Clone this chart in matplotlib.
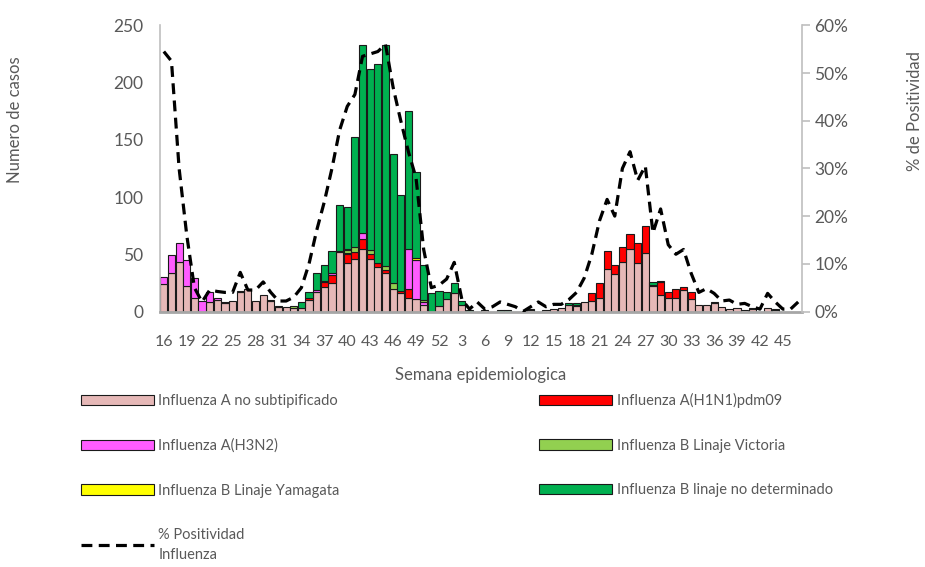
import matplotlib
matplotlib.use("Agg")
import matplotlib.pyplot as plt
import numpy as np
from matplotlib.patches import Patch
from matplotlib.lines import Line2D

plt.rcParams['font.family'] = ['Lato', 'DejaVu Sans']

# ---------------- data ----------------
weeks = list(range(16, 53)) + list(range(1, 48))

a_nosub = [24, 34, 43, 22, 12, 0, 8, 10, 7, 9, 17, 20, 9, 14, 9, 4, 4, 3, 3, 10,
           17, 21, 25, 52, 42, 46, 55, 46, 39, 34, 20, 16, 12, 11, 6, 0, 5, 11, 16, 6,
           0, 0, 1, 0, 0, 0, 0, 0, 1, 0, 1, 2, 3, 6, 5, 8, 9, 12, 37, 33,
           43, 55, 42, 51, 22, 14, 12, 12, 19, 11, 6, 6, 7, 4, 2, 3, 1, 2, 0, 3,
           1, 0, 0, 0]
h1n1 = [0, 0, 0, 0, 0, 0, 0, 0, 1, 0, 0, 0, 0, 0, 1, 1, 0, 0, 0, 2,
        0, 5, 7, 1, 8, 6, 8, 4, 3, 2, 0, 2, 8, 0, 0, 0, 0, 0, 0, 0,
        0, 0, 0, 0, 0, 0, 0, 0, 0, 0, 0, 0, 0, 0, 1, 0, 7, 13, 16, 8,
        13, 13, 18, 24, 1, 12, 5, 8, 2, 6, 0, 0, 1, 0, 0, 0, 0, 1, 0, 0,
        0, 0, 0, 0]
h3n2 = [6, 15, 17, 23, 17, 9, 9, 2, 0, 0, 1, 0, 0, 0, 0, 0, 0, 0, 0, 0,
        2, 0, 2, 0, 1, 0, 6, 0, 0, 0, 0, 0, 35, 34, 2, 0, 0, 0, 0, 0,
        0, 0, 0, 0, 0, 0, 0, 0, 0, 0, 0, 0, 0, 0, 0, 0, 0, 0, 0, 0,
        0, 0, 0, 0, 0, 0, 0, 0, 0, 0, 0, 0, 0, 0, 0, 0, 0, 0, 0, 0,
        0, 0, 0, 0]
b_victoria = [0, 0, 0, 0, 0, 0, 0, 0, 0, 0, 0, 0, 0, 0, 0, 0, 0, 2, 0, 0,
              0, 1, 0, 0, 3, 4, 0, 4, 0, 4, 5, 0, 0, 0, 2, 0, 0, 0, 0, 0,
              0, 0, 0, 0, 0, 0, 0, 0, 0, 0, 0, 0, 0, 0, 0, 0, 0, 0, 0, 0,
              0, 0, 0, 0, 0, 0, 0, 0, 0, 0, 0, 0, 0, 0, 0, 0, 0, 0, 0, 0,
              0, 0, 0, 0]
b_yamagata = [0, 0, 0, 0, 0, 0, 0, 0, 0, 0, 0, 0, 0, 0, 0, 0, 0, 0, 0, 0,
              0, 0, 0, 0, 1, 0, 0, 0, 0, 0, 0, 0, 0, 2, 0, 0, 0, 0, 0, 0,
              0, 0, 0, 0, 0, 0, 0, 0, 0, 0, 0, 0, 0, 0, 0, 0, 0, 0, 0, 0,
              0, 0, 0, 0, 0, 0, 0, 0, 0, 0, 0, 0, 0, 0, 0, 0, 0, 0, 0, 0,
              0, 0, 0, 0]
b_nodet = [0, 0, 0, 0, 0, 0, 0, 0, 0, 0, 0, 0, 0, 0, 0, 0, 0, 0, 5, 5,
           15, 14, 19, 40, 36, 96, 164, 158, 174, 193, 113, 84, 120, 75, 31, 16, 13, 6, 9, 3,
           1, 0, 0, 0, 1, 1, 0, 0, 1, 0, 0, 0, 0, 1, 1, 0, 0, 0, 0, 0,
           0, 0, 0, 0, 3, 1, 0, 0, 0, 0, 0, 0, 0, 0, 0, 0, 0, 0, 0, 0,
           1, 0, 0, 0]
positividad = [54.5, 52.5, 30, 16, 5, 2, 4.5, 4.2, 4, 4, 8.2, 4.5, 4.5, 6.2, 4, 2.2, 2.2, 3, 5, 10,
               17, 23, 30, 38, 43, 45.5, 53.5, 54, 54.5, 56, 47, 40, 33.5, 28, 13, 5, 5.5, 6.8, 10.3, 2.5,
               0.5, 2, 0.5, 1, 2, 1.5, 1, 0, 1, 2, 1, 1.5, 1.5, 2.5, 4, 7, 12, 19, 23.5, 20,
               30, 33.5, 27.5, 30.5, 16.5, 21.5, 14, 12, 13, 8, 4, 4.8, 3.8, 2.2, 2.4, 1.5, 1.7, 1, 0.5, 3.8,
               2, 0.5, 0.5, 2]

series_labels = ["Influenza A no subtipificado", "Influenza A(H1N1)pdm09", "Influenza A(H3N2)",
                 "Influenza B Linaje Victoria", "Influenza B Linaje Yamagata",
                 "Influenza B linaje no determinado"]
line_label = "% Positividad\nInfluenza"

colors = ["#E6B8B7", "#FF0000", "#FF5CFF", "#92D050", "#FFFF00", "#00B050"]
TXT = "#595959"

# ---------------- figure ----------------
W, H = 925, 567
fig = plt.figure(figsize=(W / 100, H / 100), dpi=100)
L, R, T, B = 160, 802, 25.3, 311.5
ax = fig.add_axes([L / W, 1 - B / H, (R - L) / W, (B - T) / H])

x = np.arange(len(weeks))
bottom = np.zeros(len(weeks))
handles = []
for vals, col, lab in zip([a_nosub, h1n1, h3n2, b_victoria, b_yamagata, b_nodet], colors, series_labels):
    v = np.array(vals, dtype=float)
    m = v > 0
    ax.bar(x[m], v[m], bottom=bottom[m], width=0.94, color=col, edgecolor="#1a1a1a",
           linewidth=0.8, zorder=2)
    bottom += v
    handles.append(Patch(facecolor=col, edgecolor="#1a1a1a", linewidth=0.8, label=lab))

ax.set_xlim(-0.5, len(weeks) - 0.5)
ax.set_ylim(0, 250)
ax.set_yticks(np.arange(0, 251, 50))
ax.set_xticks(x[::3])
ax.set_xticklabels([str(w) for w in weeks[::3]])
ax.tick_params(axis="x", length=0, pad=17, labelsize=11.5, colors=TXT)
ax.tick_params(axis="y", length=0, pad=12, labelsize=12.5, colors=TXT)
for s in ["top", "right"]:
    ax.spines[s].set_visible(False)
ax.spines["left"].set_color("#BFBFBF")
ax.spines["left"].set_linewidth(1.2)
ax.spines["bottom"].set_color("#A6A6A6")
ax.spines["bottom"].set_linewidth(2)
ax.spines["bottom"].set_zorder(3)

ax.set_ylabel("Numero de casos", fontsize=12, color=TXT)
ax.yaxis.set_label_coords(-0.214, 0.67)
ax.set_xlabel("Semana epidemiologica", fontsize=12, color=TXT)
ax.xaxis.set_label_coords(0.5, -0.195)

ax2 = ax.twinx()
ax2.plot(x, positividad, color="black", linewidth=2.3, linestyle=(0, (3.4, 2.0)), zorder=4)
ax2.set_ylim(0, 60)
ax2.set_yticks(np.arange(0, 61, 10))
ax2.set_yticklabels([f"{v}%" for v in range(0, 61, 10)])
ax2.tick_params(axis="y", length=6, width=1.2, color="#BFBFBF", pad=3, labelsize=12.5, labelcolor=TXT)
for s in ["top", "left", "bottom"]:
    ax2.spines[s].set_visible(False)
ax2.spines["right"].set_color("#BFBFBF")
ax2.spines["right"].set_linewidth(1.2)
ax2.set_ylabel("% de Positividad", fontsize=12, color=TXT)
ax2.yaxis.set_label_coords(1.163, 0.70)

line_handle = Line2D([0], [0], color="black", linewidth=2.3, linestyle=(0, (3.4, 2.0)), label=line_label)

# legend: column-major order to reproduce row layout
order = [handles[0], handles[2], handles[4], line_handle, handles[1], handles[3], handles[5]]
leg = fig.legend(handles=order, labels=[h.get_label() for h in order],
                 loc="upper left", bbox_to_anchor=(81 / W, 1 - 393 / H), ncol=2,
                 frameon=False, fontsize=10.5, handlelength=5.0, handleheight=0.7,
                 handletextpad=0.3, columnspacing=13.7, labelspacing=2.1,
                 borderpad=0, borderaxespad=0)
for t in leg.get_texts():
    t.set_color(TXT)
    t.set_linespacing(1.5)

fig.savefig("out.png", dpi=100)
